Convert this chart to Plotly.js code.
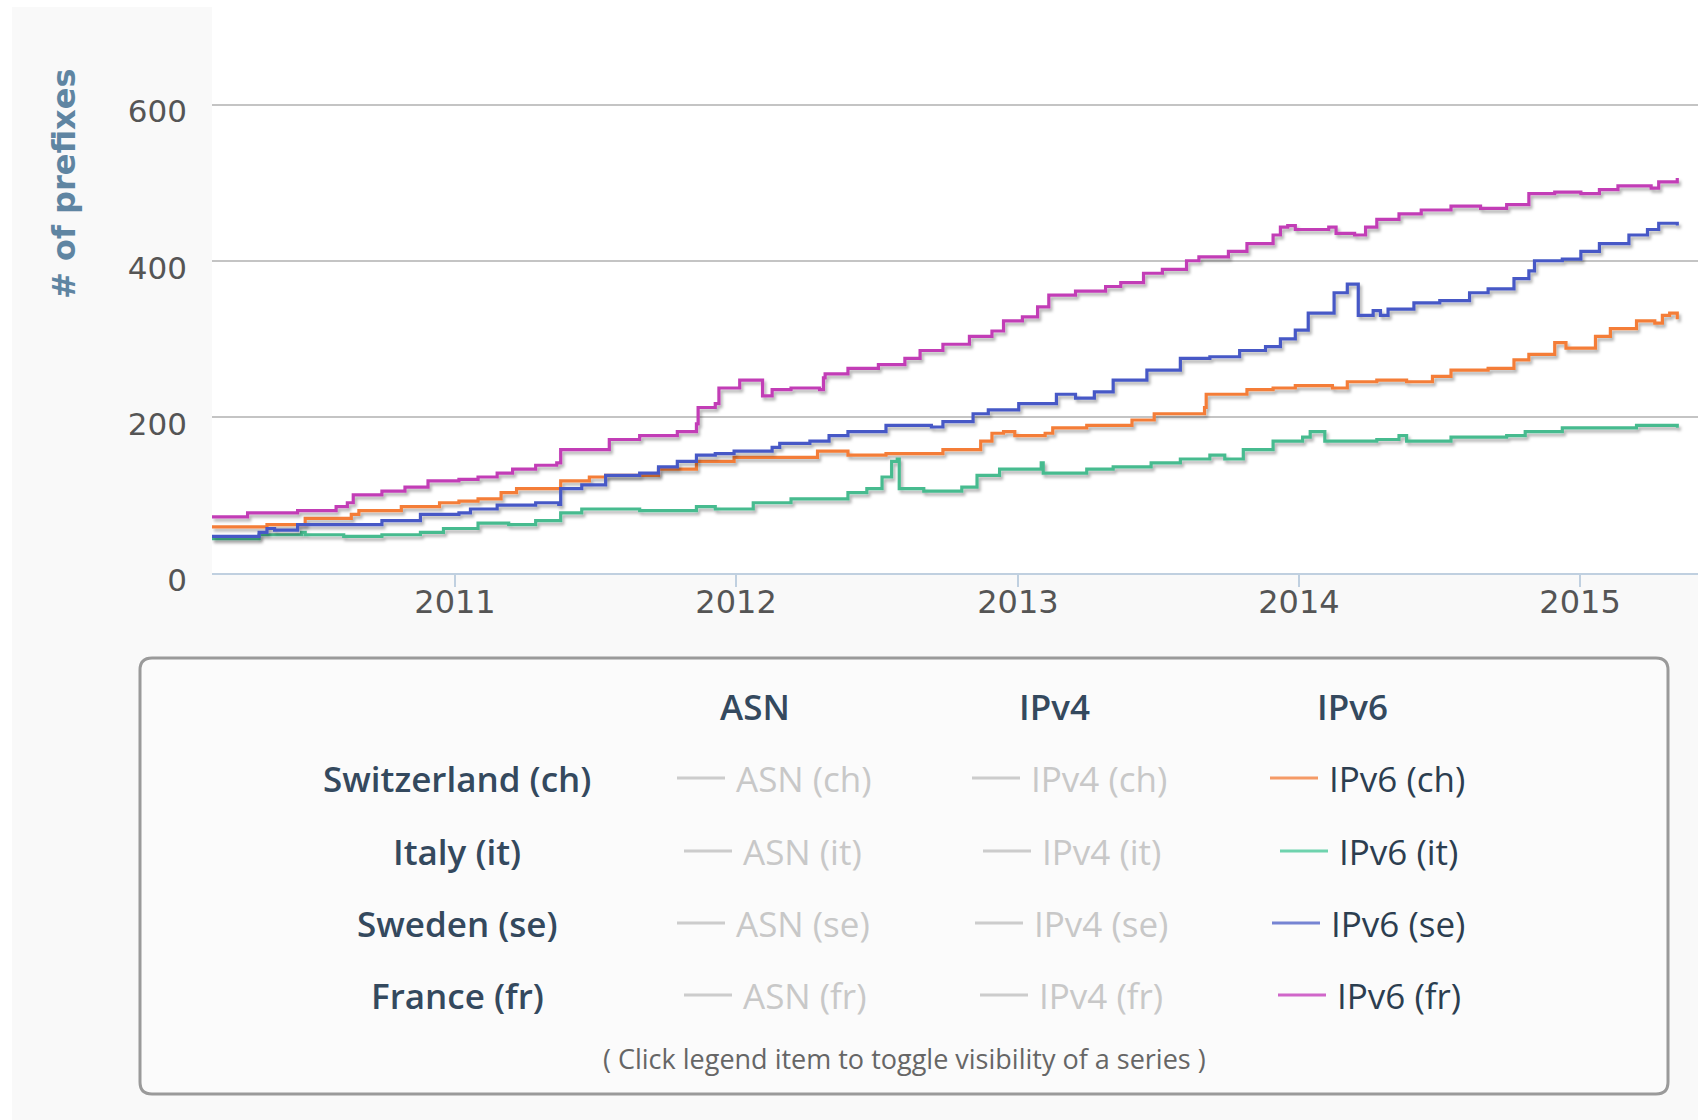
<!DOCTYPE html>
<html><head><meta charset="utf-8">
<script src="https://cdn.plot.ly/plotly-3.0.1.min.js"></script>
<style>html,body{margin:0;padding:0;background:#fff}#chart{width:1698px;height:1120px}</style>
</head><body><div id="chart"></div>
<script>
// ---- data (x in decimal years, y = # of prefixes) ----
const frX = [2010.135,2010.262,2010.440,2010.577,2010.617,2010.638,2010.740,2010.822,2010.904,2011.014,2011.082,2011.150,2011.205,2011.287,2011.362,2011.376,2011.549,2011.657,2011.791,2011.859,2011.865,2011.926,2011.939,2012.013,2012.094,2012.128,2012.195,2012.296,2012.310,2012.316,2012.397,2012.505,2012.599,2012.653,2012.734,2012.828,2012.908,2012.949,2013.016,2013.070,2013.110,2013.205,2013.312,2013.366,2013.447,2013.514,2013.600,2013.644,2013.749,2013.815,2013.908,2013.934,2013.960,2013.987,2014.106,2014.132,2014.198,2014.237,2014.277,2014.356,2014.435,2014.541,2014.646,2014.739,2014.818,2014.910,2015.003,2015.069,2015.135,2015.253,2015.280,2015.346];
const frY = [72,77,80,85,90,100,105,110,118,120,123,128,133,138,141,158,171,176,181,191,212,217,237,247,227,235,237,235,250,255,262,267,275,285,293,303,310,323,328,341,356,361,367,372,384,389,400,405,412,422,433,443,445,440,443,435,433,443,453,460,465,470,467,472,486,488,486,491,496,493,501,506];

const seX = [2010.135,2010.303,2010.331,2010.358,2010.440,2010.740,2010.877,2011.014,2011.055,2011.150,2011.287,2011.369,2011.376,2011.451,2011.536,2011.657,2011.724,2011.791,2011.859,2011.926,2011.993,2012.128,2012.155,2012.262,2012.330,2012.397,2012.532,2012.693,2012.734,2012.841,2012.895,2013.003,2013.137,2013.205,2013.272,2013.339,2013.459,2013.578,2013.683,2013.789,2013.881,2013.934,2013.987,2014.033,2014.125,2014.172,2014.211,2014.264,2014.290,2014.317,2014.409,2014.501,2014.607,2014.673,2014.765,2014.818,2014.838,2014.937,2015.003,2015.069,2015.174,2015.240,2015.280,2015.346];
const seY = [47,52,57,55,62,67,75,77,82,87,90,88,108,113,125,128,136,143,151,153,156,161,166,169,176,181,189,187,194,204,209,217,229,224,232,247,260,275,277,285,290,300,311,333,359,370,330,336,330,338,346,349,359,364,377,387,400,402,412,422,433,440,448,445];

const chX = [2010.135,2010.331,2010.467,2010.631,2010.658,2010.809,2010.945,2011.014,2011.082,2011.164,2011.219,2011.376,2011.478,2011.536,2011.724,2011.859,2011.993,2012.289,2012.397,2012.532,2012.734,2012.868,2012.908,2012.949,2012.989,2013.097,2013.124,2013.245,2013.406,2013.485,2013.664,2013.670,2013.815,2013.908,2013.987,2014.119,2014.172,2014.277,2014.383,2014.475,2014.541,2014.673,2014.765,2014.818,2014.910,2014.950,2015.029,2015.055,2015.108,2015.201,2015.266,2015.293,2015.319,2015.346];
const chY = [59,62,70,75,80,85,90,92,95,103,108,118,123,125,133,143,148,156,151,153,158,169,179,181,176,179,186,189,196,204,212,229,235,237,240,237,245,247,245,252,260,262,273,280,295,288,288,303,313,323,320,330,333,325];

const itX = [2010.135,2010.303,2010.454,2010.467,2010.604,2010.740,2010.877,2010.959,2011.082,2011.191,2011.287,2011.376,2011.451,2011.657,2011.859,2011.926,2012.061,2012.195,2012.397,2012.464,2012.518,2012.552,2012.572,2012.579,2012.666,2012.801,2012.855,2012.935,2013.083,2013.090,2013.245,2013.339,2013.474,2013.578,2013.683,2013.736,2013.802,2013.908,2014.013,2014.040,2014.092,2014.277,2014.356,2014.383,2014.541,2014.739,2014.805,2014.937,2015.201,2015.346];
const itY = [44,49,52,49,47,49,52,57,64,62,67,77,82,80,85,82,90,95,103,108,123,143,146,108,105,110,125,133,141,128,133,136,141,146,151,146,158,169,174,181,169,171,176,169,174,176,181,186,189,186];

const seriesNames = ['IPv6 (ch)','IPv6 (it)','IPv6 (se)','IPv6 (fr)'];
const seriesColors = ['#f47d37','#47bb8f','#4658c6','#c23cb6'];
const legendSymbolColors = ['#f59a66','#6fd3ae','#7684d3','#d066c9'];
const countries = ['Switzerland (ch)','Italy (it)','Sweden (se)','France (fr)'];
const codes = ['ch','it','se','fr'];
const columns = ['ASN','IPv4','IPv6'];
const yTicks = [0,200,400,600];
const xTickLabels = ['2011','2012','2013','2014','2015'];

// ---- helpers ----
function yearToDate(y){
  const yr = Math.floor(y);
  const s = Date.UTC(yr,0,1), e = Date.UTC(yr+1,0,1);
  return new Date(s + (y-yr)*(e-s)).toISOString().slice(0,19).replace('T',' ');
}
const W = 1698, H = 1120, ML = 212, MR = 0, MT = 0, MB = 547;
const PW = W-ML-MR, PH = H-MT-MB;
const px = x => (x-ML)/PW;
const py = y => (H-MB-y)/PH;

const xs = [chX,itX,seX,frX], ys = [chY,itY,seY,frY];
const traces = xs.map((xx,i)=>({
  type:'scatter', mode:'lines', name:seriesNames[i],
  x: xx.map(yearToDate), y: ys[i],
  line:{color:seriesColors[i], width:3.2, shape:'hv'},
  showlegend:false, hoverinfo:'x+y+name'
}));

// ---- legend (custom grid) ----
const annotations = [];
const shapes = [];
// white outer margins
shapes.push({type:'rect', xref:'paper', yref:'paper', x0:px(0), x1:px(12), y0:py(H), y1:py(0), fillcolor:'#ffffff', line:{width:0}, layer:'below'});
shapes.push({type:'rect', xref:'paper', yref:'paper', x0:px(0), x1:px(ML), y0:py(7), y1:py(0), fillcolor:'#ffffff', line:{width:0}, layer:'below'});

// rounded legend box
const bx0=140, bx1=1668, by0=658, by1=1094, r=12;
const rx = r/PW, ry = r/PH;
const L=px(bx0), R=px(bx1), T=py(by0), B=py(by1);
shapes.push({type:'path', xref:'paper', yref:'paper', layer:'below',
  path:`M ${L+rx},${T} L ${R-rx},${T} Q ${R},${T} ${R},${T-ry} L ${R},${B+ry} Q ${R},${B} ${R-rx},${B} L ${L+rx},${B} Q ${L},${B} ${L},${B+ry} L ${L},${T-ry} Q ${L},${T} ${L+rx},${T} Z`,
  fillcolor:'#fbfbfb', line:{color:'#9a9a9a', width:3}});

const headerY = 706, headerX = [755,1054,1352];
const rowY = [778,851,923,995], rowLabelX = 457;
const itemStart = [[677,684,677,684],[972,983,975,980],[1270,1280,1272,1278]];
const hdrFont = {family:'Open Sans', size:35, color:'#34495e', weight:600};
columns.forEach((c,j)=>annotations.push({xref:'paper',yref:'paper',x:px(headerX[j]),y:py(headerY),text:c,showarrow:false,xanchor:'center',yanchor:'middle',font:hdrFont}));
countries.forEach((c,i)=>{
  annotations.push({xref:'paper',yref:'paper',x:px(rowLabelX),y:py(rowY[i]),text:c,showarrow:false,xanchor:'center',yanchor:'middle',font:hdrFont});
  columns.forEach((col,j)=>{
    const active = (j===2);
    const s = itemStart[j][i];
    shapes.push({type:'line',xref:'paper',yref:'paper',x0:px(s),x1:px(s+48),y0:py(rowY[i]),y1:py(rowY[i]),
      line:{color: active ? legendSymbolColors[i] : '#cccccc', width:3}});
    annotations.push({xref:'paper',yref:'paper',x:px(s+57),y:py(rowY[i]),text:col+' ('+codes[i]+')',showarrow:false,
      xanchor:'left',yanchor:'middle',font:{family:'Open Sans',size:35,color: active ? '#2c3e50' : '#c8c8c8'}});
  });
});
annotations.push({xref:'paper',yref:'paper',x:px(904),y:py(1058),text:'( Click legend item to toggle visibility of a series )',showarrow:false,
  xanchor:'center',yanchor:'middle',font:{family:'Open Sans',size:27,color:'#666666'}});
// y-axis title
annotations.push({xref:'paper',yref:'paper',x:px(64),y:py(184),text:'# of prefixes',showarrow:false,textangle:-90,
  xanchor:'center',yanchor:'middle',font:{family:'DejaVu Sans',size:32,color:'#5f85a2',weight:700}});

const yearVals = xTickLabels.map(t=>t+'-01-01');
const layout = {
  width:W, height:H,
  margin:{l:ML, r:MR, t:MT, b:MB, pad:0},
  paper_bgcolor:'#f9f9f9', plot_bgcolor:'#ffffff',
  showlegend:false,
  xaxis:{type:'date', range:['2010-02-19 10:00','2015-06-03 05:00'],
    tickmode:'array', tickvals: yearVals, ticktext: xTickLabels,
    showgrid:false, zeroline:false, showline:true, linecolor:'#c0d0e0', linewidth:2,
    ticks:'',
    minor:{tickmode:'array', tickvals: yearVals, ticks:'outside', ticklen:12, tickwidth:2, tickcolor:'#c0d0e0', showgrid:false},
    tickfont:{family:'DejaVu Sans', size:32, color:'#555555'}},
  yaxis:{range:[0,734], tickvals:yTicks, showgrid:true, gridcolor:'#c4c4c4', gridwidth:2,
    zeroline:false, showline:false, ticks:'', ticklabelstandoff:24, ticklabelshift:7,
    tickfont:{family:'DejaVu Sans', size:31, color:'#555555'}},
  annotations, shapes
};

Plotly.newPlot('chart', traces, layout, {displayModeBar:false, staticPlot:true}).then(gd=>{
  const svg = gd.querySelector('svg.main-svg');
  const ns = 'http://www.w3.org/2000/svg';
  let defs = svg.querySelector('defs');
  if(!defs){ defs = document.createElementNS(ns,'defs'); svg.insertBefore(defs, svg.firstChild); }
  const f = document.createElementNS(ns,'filter');
  f.setAttribute('id','lineShadow'); f.setAttribute('x','-5%'); f.setAttribute('y','-20%');
  f.setAttribute('width','110%'); f.setAttribute('height','140%');
  const ds = document.createElementNS(ns,'feDropShadow');
  ds.setAttribute('dx','2'); ds.setAttribute('dy','3'); ds.setAttribute('stdDeviation','1.6');
  ds.setAttribute('flood-color','#000'); ds.setAttribute('flood-opacity','0.3');
  f.appendChild(ds); defs.appendChild(f);
  gd.querySelectorAll('.scatterlayer .js-line').forEach(p=>p.setAttribute('filter','url(#lineShadow)'));
});
</script></body></html>
